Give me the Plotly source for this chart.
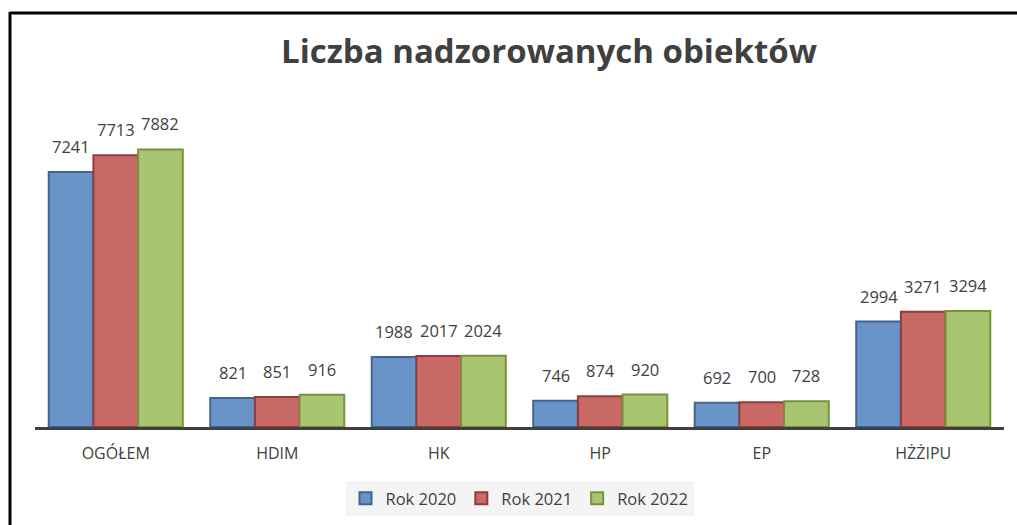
import plotly.graph_objects as go

categories = ["OGÓŁEM", "HDIM", "HK", "HP", "EP", "HŻŻIPU"]
rok_2020 = [7241, 821, 1988, 746, 692, 2994]
rok_2021 = [7713, 851, 2017, 874, 700, 3271]
rok_2022 = [7882, 916, 2024, 920, 728, 3294]
series_names = ["Rok 2020", "Rok 2021", "Rok 2022"]
fills = ["#6894C8", "#C96966", "#A9C571"]
borders = ["#3F6597", "#953B39", "#77933C"]

W, H = 1017, 525
ml, mr, mt, mb = 35, 13, 110, 98
pw, ph = W - ml - mr, H - mt - mb
BARGAP = 0.17

def px_x(p):
    return (p - ml) / pw

def px_y(p):
    return (H - mb - p) / ph

series_vals = [rok_2020, rok_2021, rok_2022]
n_series = len(series_vals)
bar_px = pw / len(categories) * (1 - BARGAP) / n_series

fig = go.Figure()
annotations = []
for i, (name, vals, fc, bc) in enumerate(zip(series_names, series_vals, fills, borders)):
    fig.add_trace(go.Bar(
        x=categories, y=vals, name=name,
        marker=dict(color=fc, line=dict(color=bc, width=2)),
        cliponaxis=False,
    ))
    for cat, v in zip(categories, vals):
        annotations.append(dict(
            x=cat, y=v, xref="x", yref="y", text=str(v), showarrow=False,
            xanchor="center", yanchor="bottom",
            xshift=(i - (n_series - 1) / 2) * bar_px, yshift=12,
            font=dict(family="Open Sans", size=16.5, color="#404040"),
        ))

fig.update_layout(
    width=W, height=H,
    margin=dict(l=ml, r=mr, t=mt, b=mb, pad=0, autoexpand=False),
    paper_bgcolor="white", plot_bgcolor="white",
    barmode="group", bargap=BARGAP, bargroupgap=0,
    font=dict(family="Open Sans", color="#404040"),
    title=dict(text="<b>Liczba nadzorowanych obiektów</b>",
               font=dict(family="Open Sans", size=33, color="#404040"),
               x=549 / W, xanchor="center", xref="container",
               y=1 - 51 / H, yanchor="middle", yref="container"),
    showlegend=True,
    legend=dict(orientation="h", x=0.5, xanchor="center",
                yref="container", y=1 - 481 / H, yanchor="top",
                bgcolor="#F4F4F4", font=dict(family="Open Sans", size=16.5, color="#404040"),
                itemwidth=30, tracegroupgap=0),
    xaxis=dict(showline=True, linecolor="#404040", linewidth=3, ticks="", showgrid=False,
               tickfont=dict(family="Open Sans", size=16, color="#404040"),
               ticklabelstandoff=10),
    yaxis=dict(range=[0, 9000], visible=False, showgrid=False, zeroline=False),
    annotations=annotations,
    shapes=[
        dict(type="line", xref="paper", yref="paper", x0=px_x(10), x1=px_x(1030),
             y0=px_y(13), y1=px_y(13), line=dict(color="black", width=3)),
        dict(type="line", xref="paper", yref="paper", x0=px_x(10), x1=px_x(10),
             y0=px_y(12), y1=px_y(540), line=dict(color="black", width=3)),
    ],
)

fig.write_html("out.html", config={"displayModeBar": False},
               post_script="document.body.style.margin='0';document.body.style.overflow='hidden';")
